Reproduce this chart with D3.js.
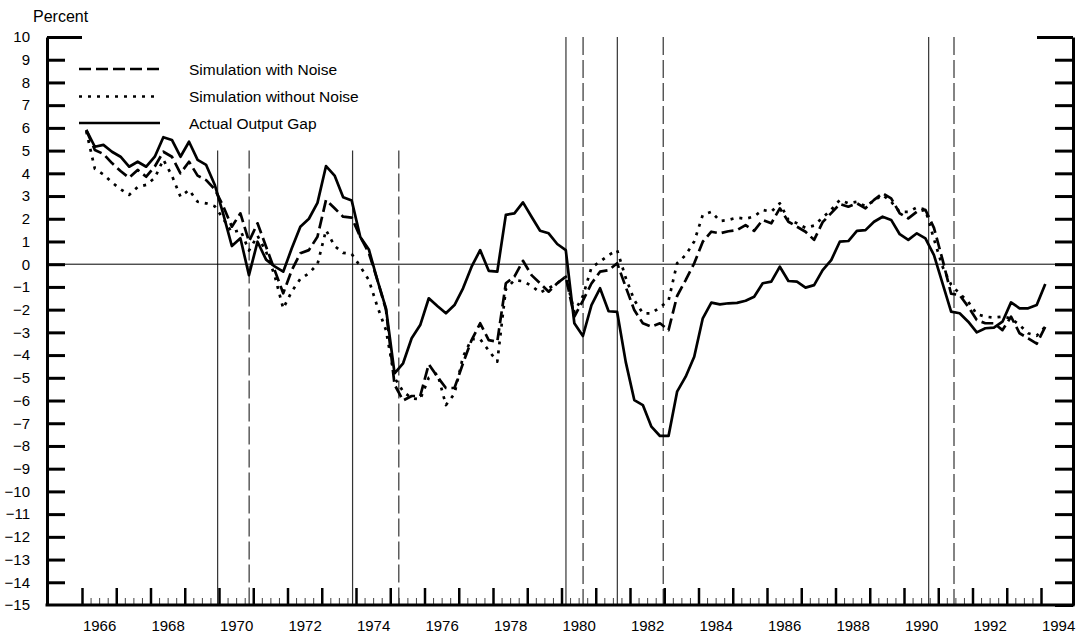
<!DOCTYPE html>
<html>
<head>
<meta charset="utf-8">
<script src="https://cdn.jsdelivr.net/npm/d3@7"></script>
<style>
  body { margin: 0; background: #fff; }
  svg { display: block; }
</style>
</head>
<body>
<script>
// quarterly values, 1966Q1 .. 1994Q1 (percent)
var firstYear = 1966;

var actualGap = [
  5.91, 5.17, 5.25, 4.95, 4.73, 4.29, 4.51, 4.29, 4.73, 5.59,
  5.47, 4.73, 5.39, 4.59, 4.37, 3.5, 2.2, 0.8, 1.14, -0.48,
  0.99, 0.2, -0.1, -0.33, 0.7, 1.65, 2.0, 2.7, 4.32, 3.9,
  2.95, 2.8, 1.2, 0.65, -0.7, -1.94, -4.8, -4.36, -3.26, -2.68,
  -1.5, -1.84, -2.16, -1.8, -1.06, -0.11, 0.62, -0.29, -0.33, 2.17,
  2.24, 2.72, 2.09, 1.47, 1.36, 0.89, 0.62, -2.6, -3.16, -1.8,
  -1.06, -2.07, -2.1, -4.3, -5.98, -6.2, -7.15, -7.56, -7.56, -5.61,
  -4.95, -4.07, -2.38, -1.69, -1.77, -1.72, -1.7, -1.61, -1.43, -0.84,
  -0.77, -0.11, -0.74, -0.77, -1.03, -0.92, -0.26, 0.18, 0.99, 1.02,
  1.47, 1.5, 1.87, 2.09, 1.95, 1.32, 1.07, 1.36, 1.14, 0.4,
  -0.84, -2.09, -2.16, -2.53, -3.0, -2.82, -2.79, -2.53, -1.68, -1.94,
  -1.94, -1.8, -0.87
];

var simNoise = [
  5.9, 5.03, 4.85, 4.45, 4.1, 3.8, 4.15, 3.85, 4.3, 4.95,
  4.73, 4.0, 4.51, 3.9, 3.7, 3.3, 2.55, 1.65, 2.24, 1.0,
  1.8, 0.77, -0.26, -1.28, -0.26, 0.48, 0.62, 1.21, 2.83, 2.46,
  2.09, 2.05, 1.2, 0.5, -0.7, -2.0, -5.3, -6.0, -5.8, -5.8,
  -4.4, -4.95, -5.45, -5.45, -4.36, -3.34, -2.6, -3.34, -3.41, -0.84,
  -0.55, 0.15, -0.48, -0.84, -1.21, -0.84, -0.55, -2.31, -1.6, -0.85,
  -0.33, -0.26, 0.04, -1.0, -2.02, -2.6, -2.75, -2.6, -2.9, -1.4,
  -0.7, 0.04, 0.99, 1.43, 1.36, 1.45, 1.5, 1.72, 1.47, 1.95,
  1.8, 2.46, 1.87, 1.65, 1.43, 1.07, 1.85, 2.25, 2.65, 2.53,
  2.68, 2.46, 2.83, 3.12, 2.9, 2.24, 2.02, 2.31, 2.39, 1.6,
  0.2, -1.3, -1.36, -1.87, -2.46, -2.6, -2.6, -2.9, -2.31, -3.04,
  -3.26, -3.5, -2.75
];

var simNoNoise = [
  5.85, 4.2, 3.95, 3.6, 3.3, 3.05, 3.4, 3.49, 3.8, 4.6,
  3.9, 2.97, 3.27, 2.75, 2.68, 2.55, 2.0, 1.4, 1.5, 0.6,
  1.25, 0.55, -0.5, -1.95, -1.2, -0.65, -0.4, 0.0, 1.5, 0.8,
  0.5, 0.45, -0.1, -0.7, -1.87, -2.9, -5.0, -5.6, -5.9, -5.95,
  -5.0, -4.8, -6.2, -5.7, -4.07, -3.3, -3.3, -3.8, -4.29, -1.1,
  -0.7, -0.75, -0.95, -1.25, -1.06, -0.84, -0.55, -2.1, -1.4, -0.15,
  0.11, 0.4, 0.62, -0.6, -1.58, -2.16, -2.16, -1.9, -1.6, 0.04,
  0.4, 1.0, 2.17, 2.31, 1.9, 1.95, 2.05, 2.0, 2.1, 2.39,
  2.31, 2.68, 1.95, 1.8, 1.6, 1.7, 2.05, 2.4, 2.83, 2.68,
  2.75, 2.55, 2.8, 3.05, 2.75, 2.3, 2.3, 2.5, 2.4, 1.1,
  -0.11, -0.9, -1.3, -1.65, -2.2, -2.31, -2.35, -2.31, -2.38, -2.68,
  -3.04, -3.15, -2.75
];

var seriesNames = ["Simulation with Noise", "Simulation without Noise", "Actual Output Gap"];

// business cycle peaks (solid) and troughs (dashed), in years
var cycleDates = [1969.96, 1970.88, 1973.9, 1975.25, 1980.13, 1980.63, 1981.63, 1982.97, 1990.72, 1991.46];
var cycleKind = ["peak", "trough", "peak", "trough", "peak", "trough", "peak", "trough", "peak", "trough"];
var cycleTop = [5, 5, 5, 5, 10, 10, 10, 10, 10, 10];

var yTicks = d3.range(-15, 11);
var years = d3.range(1966, 1995);
var yearLabels = d3.range(1966, 1995, 2);

var width = 1091, height = 639;
var frameLeft = 47, frameRight = 1073;
var font = "'Liberation Sans', Arial, sans-serif";

var svg = d3.select("body").append("svg")
    .attr("width", width)
    .attr("height", height);

var x = d3.scaleLinear().domain([1966, 1994]).range([82, 1041]);
var y = d3.scaleLinear().domain([-15, 10]).range([605, 37]);

var dates = actualGap.map(function(d, i) { return firstYear + i / 4 + 0.125; });

// cycle lines
svg.selectAll(".cycle")
    .data(cycleDates)
    .enter().append("line")
    .attr("class", "cycle")
    .attr("x1", function(d) { return x(d); })
    .attr("x2", function(d) { return x(d); })
    .attr("y1", function(d, i) { return y(cycleTop[i]); })
    .attr("y2", y(-15))
    .style("stroke", "#333")
    .style("stroke-width", 1.2)
    .style("stroke-dasharray", function(d, i) { return cycleKind[i] === "trough" ? "18,5" : null; });

// zero line
svg.append("line")
    .attr("x1", frameLeft).attr("x2", frameRight)
    .attr("y1", y(0)).attr("y2", y(0))
    .style("stroke", "#000")
    .style("stroke-width", 1);

var line = d3.line()
    .x(function(d, i) { return x(dates[i]); })
    .y(function(d) { return y(d); });

var styles = [
  {data: simNoise, dash: "12,5"},
  {data: simNoNoise, dash: "3,6"},
  {data: actualGap, dash: null}
];

styles.forEach(function(s) {
  svg.append("path")
      .datum(s.data)
      .attr("d", line)
      .style("fill", "none")
      .style("stroke", "#000")
      .style("stroke-width", 2.7)
      .style("stroke-linejoin", "round")
      .style("stroke-dasharray", s.dash);
});

// left axis
var yLeft = svg.append("g")
    .attr("transform", "translate(" + frameLeft + ",0)")
    .call(d3.axisLeft(y).tickValues(yTicks).tickSize(-18).tickSizeOuter(0).tickPadding(17));
yLeft.select(".domain").style("stroke-width", 3);
yLeft.selectAll(".tick line").style("stroke-width", 3)
    .filter(function(d) { return d === 10; }).attr("x2", 35);
yLeft.selectAll(".tick line").filter(function(d) { return d === -15; }).remove();
yLeft.selectAll("text").attr("font-family", font).attr("font-size", 15).attr("fill", "#000");

// right axis
var yRight = svg.append("g")
    .attr("transform", "translate(" + frameRight + ",0)")
    .call(d3.axisRight(y).tickValues(yTicks).tickSize(-18).tickSizeOuter(0).tickFormat(""));
yRight.select(".domain").style("stroke-width", 3);
yRight.selectAll(".tick line").style("stroke-width", 3)
    .filter(function(d) { return d === 10; }).attr("x2", -36);

// bottom axis: quarters, years, labels
var quarterTicks = [];
years.slice(0, -1).forEach(function(yr) { quarterTicks.push(yr + 0.25, yr + 0.5, yr + 0.75); });

var xMinor = svg.append("g")
    .attr("transform", "translate(0," + y(-15) + ")")
    .call(d3.axisBottom(x).tickValues(quarterTicks).tickSize(-7).tickSizeOuter(0).tickFormat(""));
xMinor.select(".domain").remove();
xMinor.selectAll(".tick line").style("stroke", "#444").style("stroke-width", 1);

var xMajor = svg.append("g")
    .attr("transform", "translate(0," + y(-15) + ")")
    .call(d3.axisBottom(x).tickValues(years).tickSize(-17).tickSizeOuter(0).tickFormat(""));
xMajor.select(".domain").remove();
xMajor.selectAll(".tick line").style("stroke-width", 2.5);

// bottom frame line
svg.append("line")
    .attr("x1", frameLeft - 1.5).attr("x2", frameRight + 1.5)
    .attr("y1", y(-15)).attr("y2", y(-15))
    .style("stroke", "#000")
    .style("stroke-width", 3);

var xLabels = svg.append("g")
    .attr("transform", "translate(0," + y(-15) + ")")
    .call(d3.axisBottom(x).tickValues(yearLabels.map(function(d) { return d + 0.5; }))
        .tickSize(0).tickPadding(15).tickFormat(function(d) { return Math.floor(d); }));
xLabels.select(".domain").remove();
xLabels.selectAll("text").attr("font-family", font).attr("font-size", 15).attr("fill", "#000");

// unit label
svg.append("text")
    .attr("x", 33)
    .attr("y", 22)
    .style("font-family", font)
    .style("font-size", "16px")
    .text("Percent");

// legend
var legend = svg.append("g").attr("class", "legend");
var legendY = [69, 96.5, 123];
seriesNames.forEach(function(name, i) {
  legend.append("line")
      .attr("x1", 79).attr("x2", 160)
      .attr("y1", legendY[i]).attr("y2", legendY[i])
      .style("stroke", "#000")
      .style("stroke-width", 2.7)
      .style("stroke-dasharray", styles[i].dash);
  legend.append("text")
      .attr("x", 189)
      .attr("y", legendY[i] + 5.5)
      .style("font-family", font)
      .style("font-size", "15.5px")
      .text(name);
});
</script>
</body>
</html>
